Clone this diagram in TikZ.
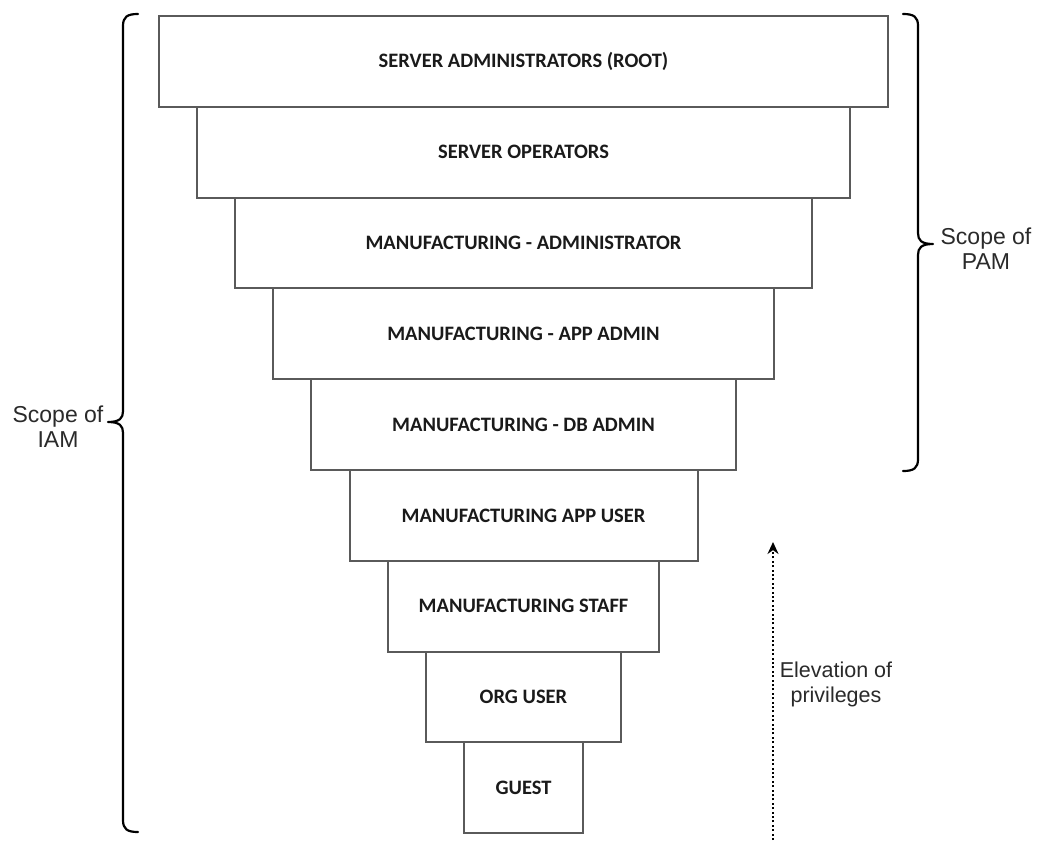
\documentclass[tikz,border=0pt]{standalone}
\usepackage{fontspec}
\setmainfont{Liberation Sans}
\newfontfamily\boxfont{Carlito}
\usetikzlibrary{arrows.meta}
\definecolor{boxline}{HTML}{5A5A5A}
\definecolor{txt}{HTML}{1A1A1A}
\definecolor{sidetxt}{HTML}{2A2A2A}
\tikzset{
  tier/.style={draw=boxline, line width=2pt, fill=white, rectangle, anchor=north west, inner sep=0pt,
    font=\boxfont\bfseries\fontsize{20.5}{24}\selectfont, text=txt},
  sidelabel/.style={align=center, text=sidetxt, font=\fontsize{23}{25}\selectfont},
  elevlabel/.style={align=center, text=sidetxt, font=\fontsize{21.5}{25}\selectfont},
  bracepath/.style={draw=black, line width=2.2pt, line cap=round, line join=round},
  elevarrow/.style={draw=black, line width=2pt, dash pattern=on 2pt off 2.4pt, -{Stealth[length=12pt,width=11pt]}}
}
\begin{document}
\begin{tikzpicture}[x=1pt,y=-1pt]
\useasboundingbox (0,0) rectangle (1043,840);
\fill[white] (0,0) rectangle (1043,840);
% tiers
\def\tierH{90.8}
\foreach \i/\name/\lab in {
  0/t0/{SERVER ADMINISTRATORS (ROOT)},
  1/t1/{SERVER OPERATORS},
  2/t2/{MANUFACTURING - ADMINISTRATOR},
  3/t3/{MANUFACTURING - APP ADMIN},
  4/t4/{MANUFACTURING - DB ADMIN},
  5/t5/{MANUFACTURING APP USER},
  6/t6/{MANUFACTURING STAFF},
  7/t7/{ORG USER},
  8/t8/{GUEST}}{
  \pgfmathsetmacro{\lx}{158+38.1*\i}
  \pgfmathsetmacro{\rx}{887-38.1*\i}
  \pgfmathsetmacro{\ty}{15+\tierH*\i}
  \pgfmathsetmacro{\boxw}{\rx-\lx}
  \node[tier, minimum width=\boxw pt, minimum height=\tierH pt] (\name) at (\lx,\ty) {\lab};
}
% left brace (IAM)
\coordinate (lbTop) at (138,14);
\coordinate (lbTip) at (108,422);
\coordinate (lbBot) at (138,832);
\draw[bracepath] (lbTop) .. controls (127,14) and (123,17) .. (123,26)
  -- (123,411) .. controls (123,418) and (120,422) .. (lbTip)
  .. controls (120,422) and (123,426) .. (123,433)
  -- (123,820) .. controls (123,829) and (127,832) .. (lbBot);
\node[sidelabel, anchor=center] (iam) at (58,427) {Scope of\\IAM};
% right brace (PAM)
\coordinate (rbTop) at (903,14);
\coordinate (rbTip) at (933,244);
\coordinate (rbBot) at (903,471);
\draw[bracepath] (rbTop) .. controls (914,14) and (918,17) .. (918,26)
  -- (918,233) .. controls (918,240) and (921,244) .. (rbTip)
  .. controls (921,244) and (918,248) .. (918,255)
  -- (918,459) .. controls (918,468) and (914,471) .. (rbBot);
\node[sidelabel, anchor=center] (pam) at (986,249) {Scope of\\PAM};
% elevation arrow
\coordinate (elevBot) at (773,840);
\coordinate (elevTop) at (773,542);
\draw[elevarrow] (elevBot) -- (elevTop);
\node[elevlabel, anchor=center] (elev) at (836,684) {Elevation of\\privileges};
\end{tikzpicture}
\end{document}
